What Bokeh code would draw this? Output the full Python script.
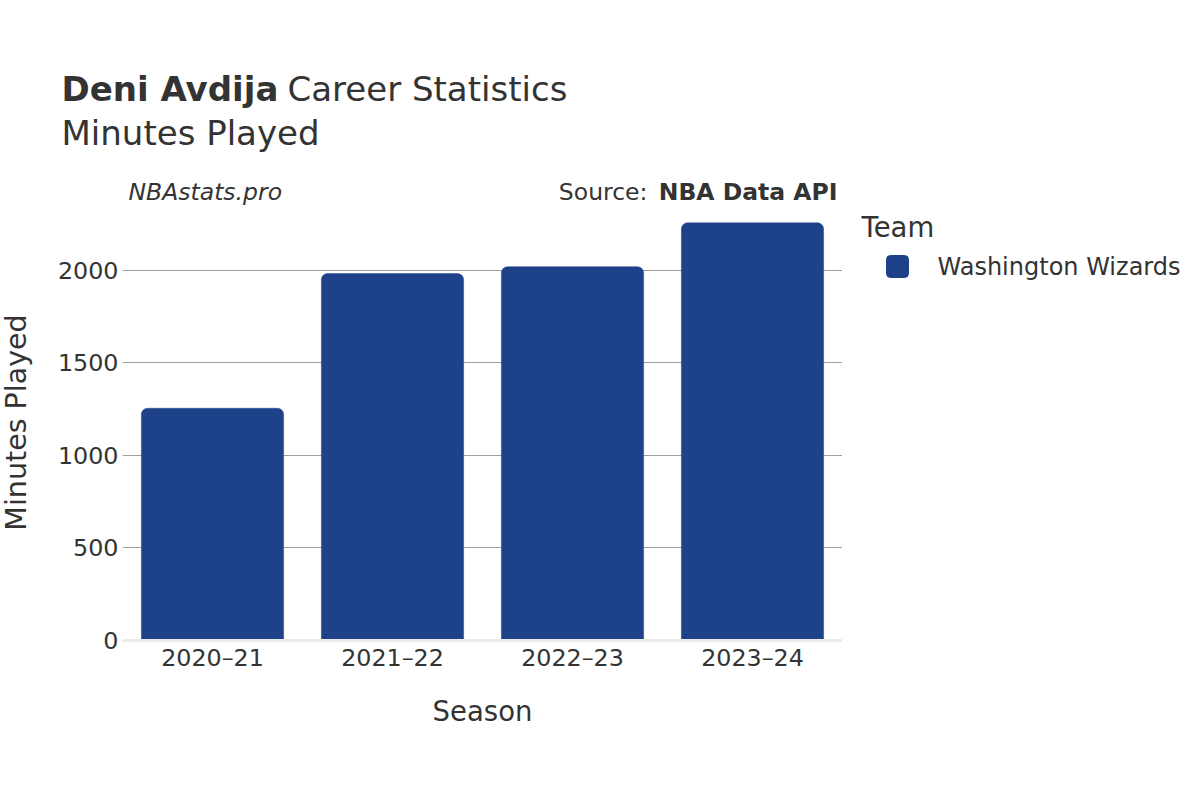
import math
from bokeh.plotting import figure
from bokeh.models import ColumnDataSource, FactorRange, Range1d, FixedTicker
from bokeh.core.properties import value
from bokeh.layouts import column, row
from bokeh.embed import file_html
from bokeh.resources import INLINE

# ---- data ----
seasons = ["2020\u201321", "2021\u201322", "2022\u201323", "2023\u201324"]
minutes = [1254, 1981, 2018, 2255]
teams = ["Washington Wizards"]
team_colors = ["#1d428a"]
y_ticks = [0, 500, 1000, 1500, 2000]
player = "Deni Avdija"
title_rest = "Career Statistics"
subtitle = "Minutes Played"
watermark = "NBAstats.pro"
source_lbl = "Source:"
source_name = "NBA Data API"
legend_title = "Team"
x_title = "Season"
y_title = "Minutes Played"

TXT = "#333333"
FONT = "DejaVu Sans"
FV = value(FONT)
W, H = 1184, 784
HEAD_H = 207          # header figure height (page y 0..207)
FRAME_BOTTOM = 640    # page y of the plot frame bottom
LEFT_W = 40
MAIN_W = 842


def bare(fig):
    fig.axis.visible = False
    fig.grid.visible = False
    fig.outline_line_color = None
    fig.min_border = 0
    fig.title.visible = False
    return fig


# ---------- header (titles) ----------
head = bare(figure(width=W, height=HEAD_H, output_backend="svg", toolbar_location=None,
                   x_range=Range1d(0, W), y_range=Range1d(HEAD_H, 0)))
head.text(x=[61], y=[88], text=[player], text_font=FV, text_font_size="34px",
          text_font_style="bold", text_color=TXT, text_baseline="middle")
head.text(x=[287], y=[88], text=[title_rest], text_font=FV, text_font_size="34px",
          text_color=TXT, text_baseline="middle")
head.text(x=[61], y=[132], text=[subtitle], text_font=FV, text_font_size="34px",
          text_color=TXT, text_baseline="middle")
head.text(x=[128], y=[191], text=[watermark], text_font=FV, text_font_size="23.5px",
          text_font_style="italic", text_color=TXT, text_baseline="middle")
head.text(x=[837], y=[191], text=[source_name], text_font=FV, text_font_size="23.5px",
          text_font_style="bold", text_color=TXT, text_align="right",
          text_baseline="middle")
head.text(x=[647], y=[191], text=[source_lbl], text_font=FV, text_font_size="23.5px",
          text_color=TXT, text_align="right", text_baseline="middle")

# ---------- y title panel (frame aligned with main frame) ----------
left = bare(figure(width=LEFT_W, height=H - HEAD_H, output_backend="svg",
                   toolbar_location=None,
                   x_range=Range1d(0, LEFT_W), y_range=Range1d(FRAME_BOTTOM, HEAD_H)))
left.text(x=[15.5], y=[422], text=[y_title], angle=math.pi / 2, text_font=FV,
          text_font_size="28.5px", text_color=TXT, text_align="center",
          text_baseline="middle")

# ---------- main chart ----------
src = ColumnDataSource(dict(season=seasons, minutes=minutes))
main = figure(width=MAIN_W - LEFT_W, height=H - HEAD_H, output_backend="svg",
              toolbar_location=None,
              x_range=FactorRange(*seasons, range_padding=0),
              y_range=Range1d(0, 2338),
              min_border_left=122 - LEFT_W, min_border_right=0,
              min_border_top=0, min_border_bottom=H - FRAME_BOTTOM)
main.outline_line_color = None
main.title.visible = False

main.vbar(x="season", top="minutes", width=0.79, source=src,
          fill_color=team_colors[0], line_color=team_colors[0], line_width=0.5,
          border_radius=dict(top_left=6, top_right=6, bottom_right=0, bottom_left=0))

main.xaxis.axis_label = x_title
main.xaxis.axis_label_text_font = FONT
main.xaxis.axis_label_text_font_size = "27.5px"
main.xaxis.axis_label_text_font_style = "normal"
main.xaxis.axis_label_text_color = TXT
main.xaxis.axis_label_standoff = 20
main.xaxis.major_label_text_font = FONT
main.xaxis.major_label_text_font_size = "23.8px"
main.xaxis.major_label_text_color = TXT
main.xaxis.major_label_standoff = 3
main.xaxis.major_tick_out = 0
main.xaxis.major_tick_in = 0
main.xaxis.major_tick_line_color = None
main.xaxis.minor_tick_line_color = None
main.xaxis.axis_line_color = "#ebebeb"
main.xaxis.axis_line_width = 3

main.yaxis.ticker = FixedTicker(ticks=y_ticks)
main.yaxis.major_label_text_font = FONT
main.yaxis.major_label_text_font_size = "23.8px"
main.yaxis.major_label_text_color = TXT
main.yaxis.major_label_standoff = 4
main.yaxis.major_tick_out = 0
main.yaxis.major_tick_in = 0
main.yaxis.major_tick_line_color = None
main.yaxis.minor_tick_line_color = None
main.yaxis.axis_line_color = None

main.xgrid.grid_line_color = None
main.ygrid.grid_line_color = "#a0a0a0"
main.ygrid.grid_line_width = 1

# ---------- legend panel (frame aligned with main frame) ----------
side = bare(figure(width=W - MAIN_W, height=H - HEAD_H, output_backend="svg",
                   toolbar_location=None,
                   x_range=Range1d(MAIN_W, W), y_range=Range1d(FRAME_BOTTOM, HEAD_H)))
side.text(x=[861], y=[226], text=[legend_title], text_font=FV, text_font_size="27.5px",
          text_color=TXT, text_baseline="middle")
side.rect(x=[897], y=[266], width=22, height=22, fill_color=team_colors[0],
          line_color=team_colors[0], border_radius=4)
side.text(x=[937], y=[266], text=teams, text_font=FV, text_font_size="24px",
          text_color=TXT, text_baseline="middle")

layout = column(head, row(left, main, side, spacing=0), spacing=0)
open("out.html", "w").write(file_html(layout, INLINE))
